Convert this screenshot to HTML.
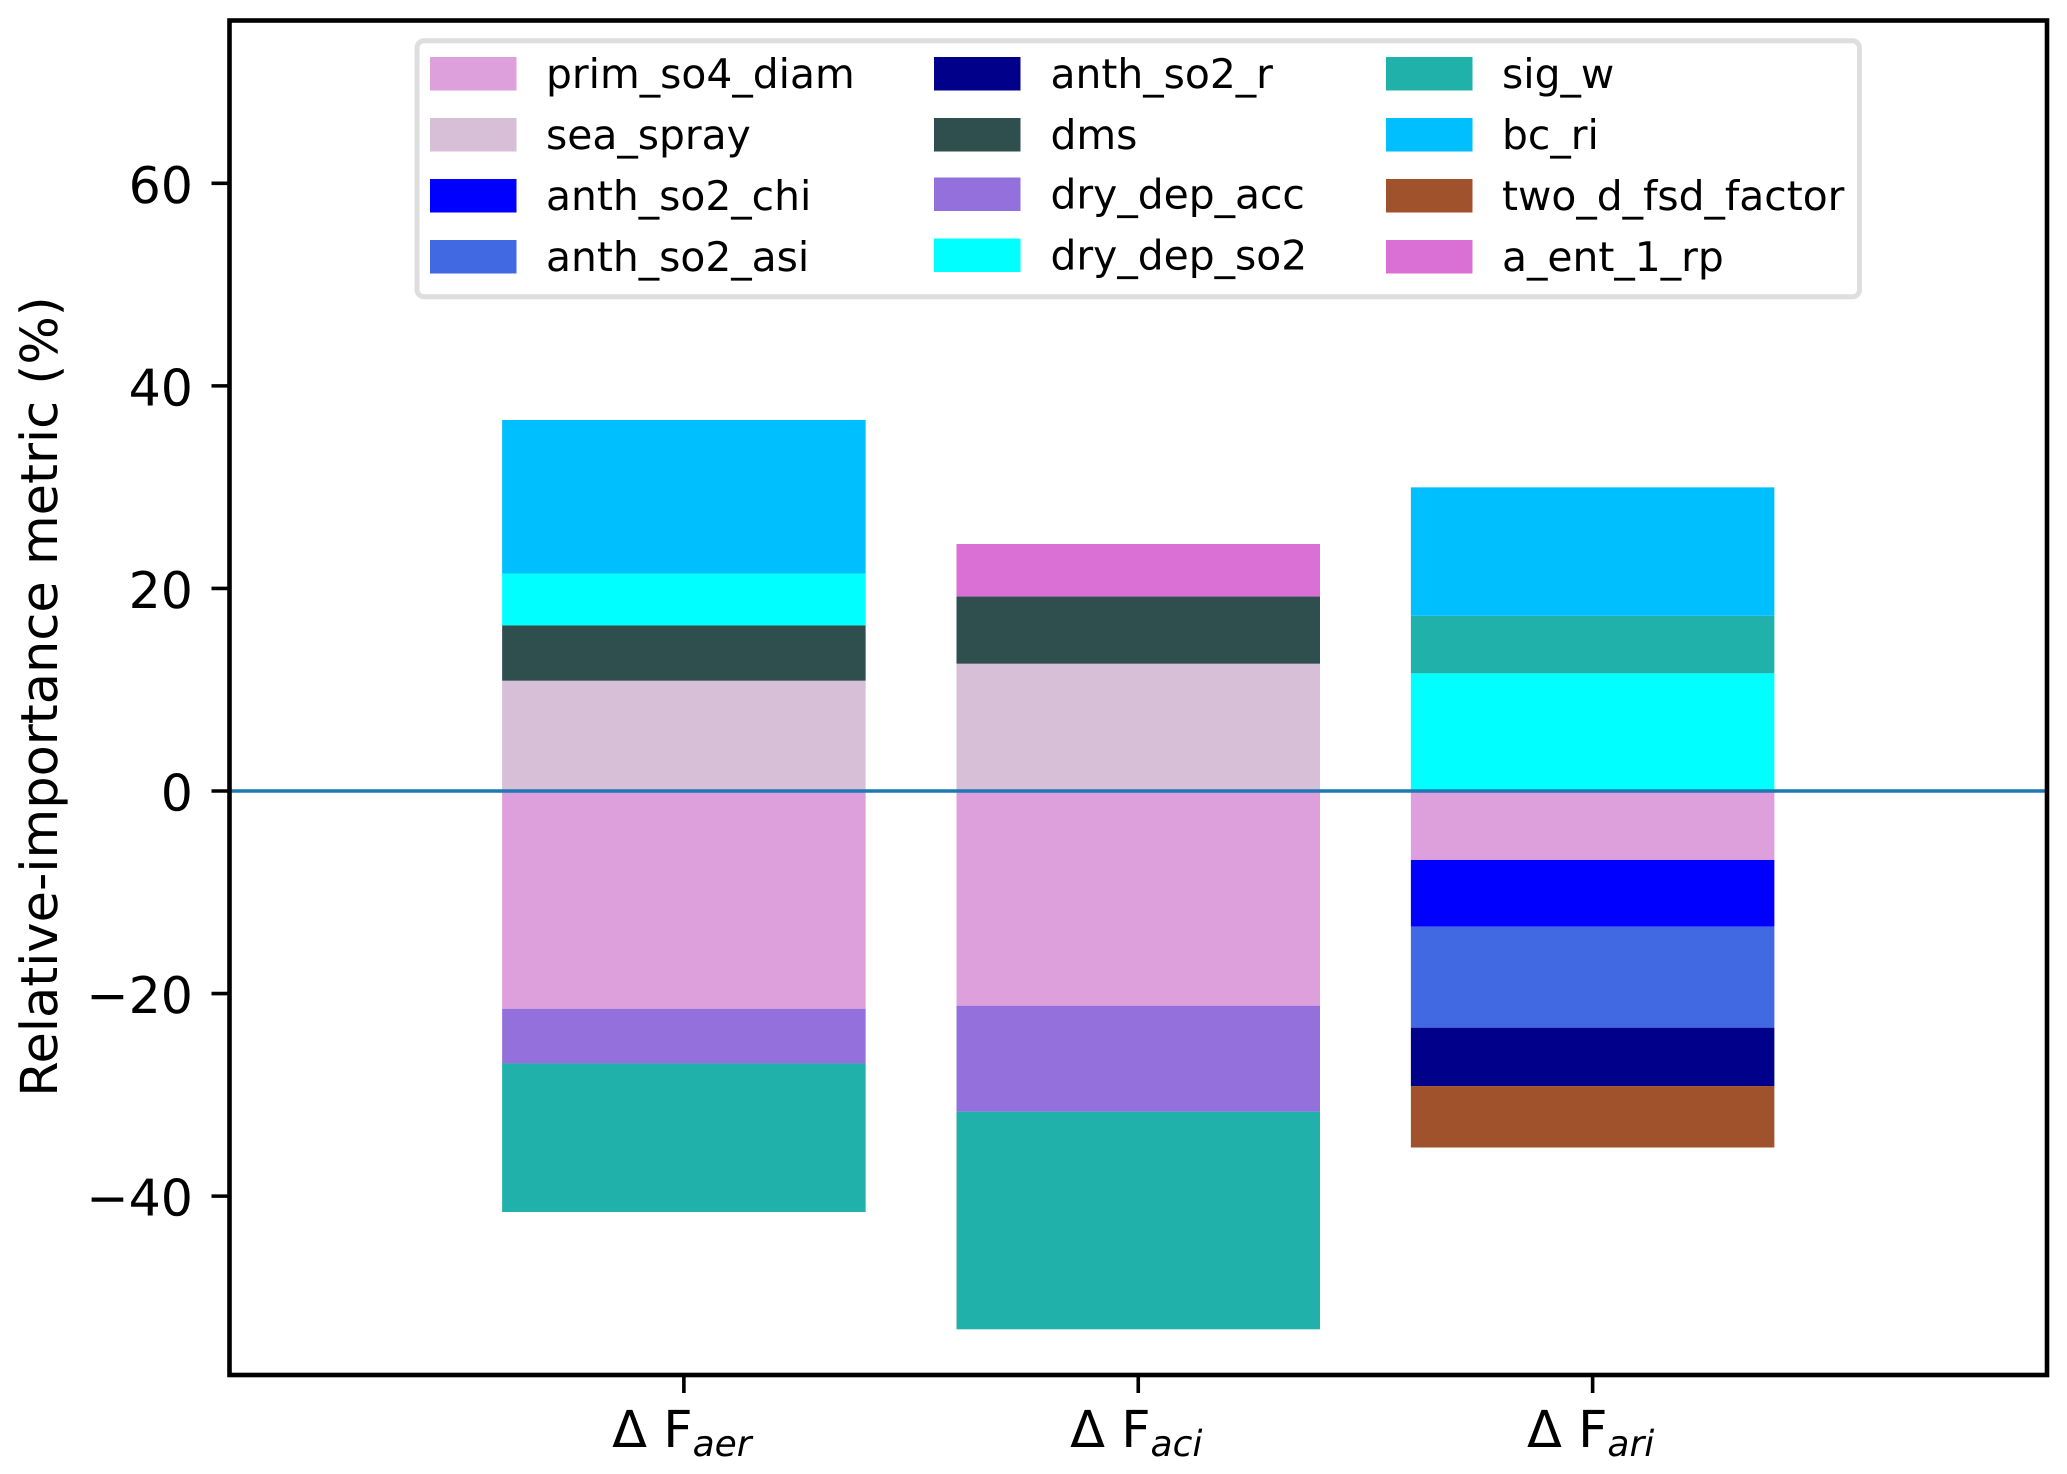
<!DOCTYPE html>
<html lang="en">
<head>
<meta charset="utf-8">
<title>Relative-importance metric</title>
<style>
html,body{margin:0;padding:0;background:#fff;}
#chart{display:block;width:2067px;height:1474px;}
text{font-family:"DejaVu Sans","Liberation Sans",sans-serif;fill:#000;text-rendering:geometricPrecision;}
</style>
</head>
<body>
<svg id="chart" xmlns="http://www.w3.org/2000/svg" width="2067" height="1474" viewBox="0 0 2067 1474">
  <rect x="0" y="0" width="2067" height="1474" fill="#ffffff"/>
  <g id="bars"></g>
  <g id="axes"></g>
  <g id="legend"></g>
  <text transform="translate(57,696.5) rotate(-90)" text-anchor="middle" font-size="51">Relative-importance metric (%)</text>
</svg>
<script>
const categories = ["aer", "aci", "ari"];
const yTickValues = [60, 40, 20, 0, -20, -40];
const seriesNames = ["prim_so4_diam", "sea_spray", "anth_so2_chi", "anth_so2_asi", "anth_so2_r", "dms", "dry_dep_acc", "dry_dep_so2", "sig_w", "bc_ri", "two_d_fsd_factor", "a_ent_1_rp"];
const seriesColors = ["#DDA0DD", "#D8BFD8", "#0000FF", "#4169E1", "#00008B", "#2F4F4F", "#9370DB", "#00FFFF", "#20B2AA", "#00BFFF", "#A0522D", "#DA70D6"];
const primSo4Diam = [-21.5, -21.2, -6.81];
const seaSpray = [10.89, 12.57, 0];
const anthSo2Chi = [0, 0, -6.59];
const anthSo2Asi = [0, 0, -9.97];
const anthSo2R = [0, 0, -5.76];
const dms = [5.47, 6.63, 0];
const dryDepAcc = [-5.4, -10.46, 0];
const dryDepSo2 = [5.11, 0, 11.62];
const sigW = [-14.67, -21.49, 5.68];
const bcRi = [15.16, 0, 12.68];
const twoDFsdFactor = [0, 0, -6.07];
const aEnt1Rp = [0, 5.19, 0];
const seriesValues = [primSo4Diam, seaSpray, anthSo2Chi, anthSo2Asi, anthSo2R, dms, dryDepAcc, dryDepSo2, sigW, bcRi, twoDFsdFactor, aEnt1Rp];

const NS = "http://www.w3.org/2000/svg";
const plot = { left: 229.5, right: 2047, top: 20.5, bottom: 1375 };
const xDomain = [-1, 3];
const yPerUnit = 10.128;
const yZero = 791;
const barWidthUnits = 0.8;

function xScale(i) {
  return plot.left + (i - xDomain[0]) * (plot.right - plot.left) / (xDomain[1] - xDomain[0]);
}
function yScale(v) {
  return yZero - v * yPerUnit;
}
function make(tag, attrs) {
  const el = document.createElementNS(NS, tag);
  for (const k in attrs) el.setAttribute(k, attrs[k]);
  return el;
}
function formatTick(v) {
  return v < 0 ? "\u2212" + Math.abs(v) : String(v);
}

const barsGroup = document.getElementById("bars");
const axesGroup = document.getElementById("axes");
const legendGroup = document.getElementById("legend");

/* stacked bars */
categories.forEach(function (cat, c) {
  let posBase = 0;
  let negBase = 0;
  const bw = barWidthUnits * (xScale(1) - xScale(0));
  seriesNames.forEach(function (name, s) {
    const v = seriesValues[s][c];
    if (!v) return;
    const from = v > 0 ? posBase : negBase;
    const to = from + v;
    if (v > 0) posBase = to; else negBase = to;
    const rect = make("rect", {
      x: xScale(c) - bw / 2,
      y: Math.min(yScale(from), yScale(to)),
      width: bw,
      height: Math.abs(yScale(to) - yScale(from)),
      fill: seriesColors[s]
    });
    
    
    barsGroup.appendChild(rect);
  });
});

/* zero line */
const zeroLine = make("line", { x1: plot.left, x2: plot.right, y1: yScale(0), y2: yScale(0), stroke: "#1f77b4", "stroke-width": 3.4 });


axesGroup.appendChild(zeroLine);

/* plot frame */
const frame = make("rect", { x: plot.left, y: plot.top, width: plot.right - plot.left, height: plot.bottom - plot.top, fill: "none", stroke: "#000", "stroke-width": 4.6 });


axesGroup.appendChild(frame);

/* y ticks */
yTickValues.forEach(function (v) {
  const tick = make("line", { x1: plot.left - 18, x2: plot.left, y1: yScale(v), y2: yScale(v), stroke: "#000", "stroke-width": 3.6 });
  
  
  axesGroup.appendChild(tick);
  const label = make("text", { x: 193, y: yScale(v) + 19.5, "text-anchor": "end", "font-size": 50.6 });
  
  
  label.textContent = formatTick(v);
  axesGroup.appendChild(label);
});

/* x ticks */
categories.forEach(function (cat, c) {
  const tick = make("line", { x1: xScale(c), x2: xScale(c), y1: plot.bottom, y2: plot.bottom + 18, stroke: "#000", "stroke-width": 3.6 });
  
  
  axesGroup.appendChild(tick);
  const label = make("text", { x: xScale(c) - 2, y: 1447, "text-anchor": "middle", "font-size": 51 });
  
  
  label.appendChild(document.createTextNode("\u0394 F"));
  const sub = make("tspan", { "font-size": 36, "font-style": "italic", dy: 9 });
  sub.textContent = cat;
  label.appendChild(sub);
  axesGroup.appendChild(label);
});

/* legend */
const legendBox = make("rect", { x: 417, y: 40.8, width: 1442.5, height: 256, rx: 7, ry: 7, fill: "#ffffff", stroke: "#dedede", "stroke-width": 5 });


legendGroup.appendChild(legendBox);

function legendColumnX(col) {
  return col === 0 ? 430 : col === 1 ? 934 : 1386;
}
function legendTextX(col) {
  return col === 0 ? 546 : col === 1 ? 1050.5 : 1502;
}
function legendRowY(col, row) {
  return 57 + 61 * row - (col === 1 && row >= 2 ? 1.5 : 0);
}
seriesNames.forEach(function (name, s) {
  const col = Math.floor(s / 4);
  const row = s % 4;
  const swatch = make("rect", { x: legendColumnX(col), y: legendRowY(col, row), width: 86.5, height: 33.5, fill: seriesColors[s] });
  
  
  legendGroup.appendChild(swatch);
  const label = make("text", { x: legendTextX(col), y: legendRowY(col, row) + 31, "font-size": 40.8 });
  
  
  label.textContent = name;
  legendGroup.appendChild(label);
});
</script>
</body>
</html>
